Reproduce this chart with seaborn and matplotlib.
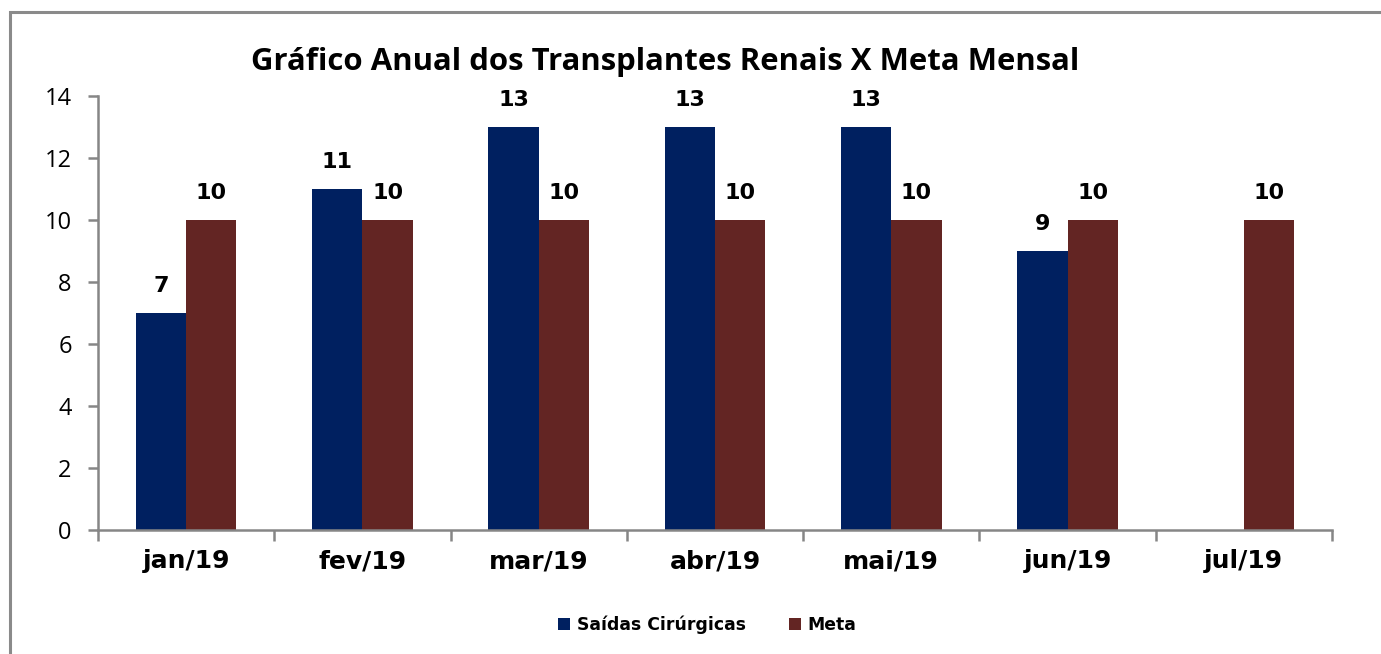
import numpy as np
import pandas as pd
import matplotlib
matplotlib.use("Agg")
import matplotlib.pyplot as plt
from matplotlib.patches import Rectangle
import seaborn as sns

meses = ["jan/19", "fev/19", "mar/19", "abr/19", "mai/19", "jun/19", "jul/19"]
saidas = [7, 11, 13, 13, 13, 9, np.nan]
meta = [10, 10, 10, 10, 10, 10, 10]
series = ["Saídas Cirúrgicas", "Meta"]
cores = ["#002060", "#632523"]

df = pd.DataFrame({
    "mes": meses * 2,
    "valor": saidas + meta,
    "serie": [series[0]] * len(meses) + [series[1]] * len(meses),
})

sns.set_style("white")
plt.rcParams["font.family"] = ["DejaVu Sans"]
plt.rcParams["text.color"] = "black"

fig = plt.figure(figsize=(13.81, 6.54), dpi=100)
ax = fig.add_axes([0.071, 0.1896, 0.8935, 0.6634])

sns.barplot(data=df, x="mes", y="valor", hue="serie", order=meses,
            hue_order=series, palette=cores, width=0.57, saturation=1,
            linewidth=0, ax=ax, legend=True)

for c in ax.containers:
    ax.bar_label(c, fmt="%g", padding=12, fontsize=16, fontweight="bold",
                 color="black")

ax.set_ylim(0, 14)
ax.set_xlim(-0.5, 6.5)
ax.set_yticks(range(0, 15, 2))
ax.set_xlabel("")
ax.set_ylabel("")

grey = "#868686"
for s in ["top", "right"]:
    ax.spines[s].set_visible(False)
for s in ["left", "bottom"]:
    ax.spines[s].set_color(grey)
    ax.spines[s].set_linewidth(1.8)

ax.tick_params(axis="y", which="major", length=7, width=1.8, color=grey,
               direction="out", left=True, labelsize=17, pad=12,
               labelcolor="black")
for lbl in ax.get_yticklabels():
    lbl.set_family("Open Sans")
ax.set_xticks(np.arange(-0.5, 7, 1), minor=True)
ax.tick_params(axis="x", which="major", length=0, labelsize=18, pad=14,
               labelcolor="black")
ax.tick_params(axis="x", which="minor", length=8, width=1.8, color=grey,
               direction="out", bottom=True)
for lbl in ax.get_xticklabels():
    lbl.set_fontweight("bold")

fig.text(0.4816, 0.905, "Gráfico Anual dos Transplantes Renais X Meta Mensal",
         ha="center", va="center", fontsize=22.4, fontweight="bold",
         family="Open Sans", color="black")

handles, labels = ax.get_legend_handles_labels()
ax.get_legend().remove()
fig.legend(handles, labels, loc="center", bbox_to_anchor=(0.512, 0.044),
           ncol=2, frameon=False, handlelength=0.7, handleheight=0.7,
           columnspacing=2.5, handletextpad=0.4,
           prop={"weight": "bold", "size": 12.4})

fig.patches.append(Rectangle((10 / 1381, -0.2), 1.2, 1.2 - 12 / 654,
                             transform=fig.transFigure, fill=False,
                             edgecolor="#8a8a8a", linewidth=2.2))

fig.savefig("out.png", dpi=100)
